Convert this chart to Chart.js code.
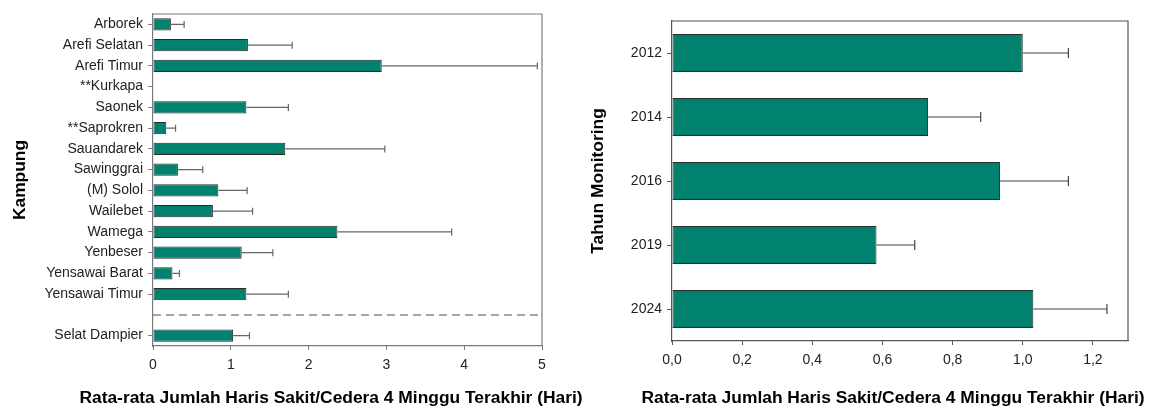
<!DOCTYPE html>
<html>
<head>
<meta charset="utf-8">
<script src="https://cdn.jsdelivr.net/npm/chart.js@4/dist/chart.umd.min.js"></script>
<style>
    body { margin: 0; background: #fff; }
    #wrap { position: relative; width: 1164px; height: 410px; overflow: hidden; }
    canvas { position: absolute; top: 0; }
    #g1 { left: 0; }
    #g2 { left: 580px; }
</style>
</head>
<body>
<div id="wrap">
    <canvas id="g2" width="584" height="410"></canvas>
    <canvas id="g1" width="592" height="410"></canvas>
</div>
<script>
// data per kampung (nilai rata-rata dan ujung atas error bar)
const kampung = [
    'Arborek', 'Arefi Selatan', 'Arefi Timur', '**Kurkapa', 'Saonek', '**Saprokren',
    'Sauandarek', 'Sawinggrai', '(M) Solol', 'Wailebet', 'Wamega', 'Yenbeser',
    'Yensawai Barat', 'Yensawai Timur', '', 'Selat Dampier'
];
const rataKampung = [0.23, 1.22, 2.94, null, 1.20, 0.17, 1.70, 0.32, 0.84, 0.77, 2.37, 1.14, 0.25, 1.20, null, 1.03];
const atasKampung = [0.40, 1.79, 4.94, null, 1.74, 0.29, 2.98, 0.64, 1.21, 1.28, 3.84, 1.54, 0.34, 1.74, null, 1.24];

// data per tahun monitoring
const tahun = ['2012', '2014', '2016', '2019', '2024'];
const rataTahun = [1.00, 0.73, 0.935, 0.583, 1.03];
const atasTahun = [1.13, 0.88, 1.13, 0.692, 1.24];

const judulX = 'Rata-rata Jumlah Haris Sakit/Cedera 4 Minggu Terakhir (Hari)';
const font = "'Liberation Sans', Arial, sans-serif";
const hijau = '#00826e';

// garis error, bingkai, garis putus-putus, judul bawah
const tambahan = {
    id: 'tambahan',
    afterDatasetsDraw(chart, args, opts) {
        const ctx = chart.ctx;
        const a = chart.chartArea;
        const xs = chart.scales.x;
        const ys = chart.scales.y;
        const meta = chart.getDatasetMeta(0);
        const rata = chart.data.datasets[0].data;
        ctx.save();

        ctx.strokeStyle = opts.errColor;
        ctx.lineWidth = 1.2;
        rata.forEach((v, i) => {
            if (v === null) return;
            const x1 = xs.getPixelForValue(v);
            const x2 = xs.getPixelForValue(opts.atas[i]);
            const y = meta.data[i].y;
            ctx.beginPath();
            ctx.moveTo(x1, y);
            ctx.lineTo(x2, y);
            ctx.moveTo(x2, y - opts.cap);
            ctx.lineTo(x2, y + opts.cap);
            ctx.stroke();
        });

        if (opts.pemisah !== undefined) {
            const y = ys.getPixelForValue(opts.pemisah);
            ctx.strokeStyle = '#888';
            ctx.lineWidth = 1.5;
            ctx.setLineDash([8, 5]);
            ctx.beginPath();
            ctx.moveTo(a.left, y);
            ctx.lineTo(a.right, y);
            ctx.stroke();
            ctx.setLineDash([]);
        }

        ctx.strokeStyle = opts.frame;
        ctx.lineWidth = 1.2;
        ctx.beginPath();
        ctx.moveTo(a.left, a.top);
        ctx.lineTo(a.right, a.top);
        ctx.lineTo(a.right, a.bottom);
        ctx.stroke();

        ctx.fillStyle = '#000';
        ctx.font = 'bold 17.4px ' + font;
        ctx.textAlign = 'center';
        ctx.textBaseline = 'middle';
        ctx.fillText(judulX, opts.titleX, opts.titleY);
        ctx.restore();
    }
};

function buat(id, labels, rata, atas, cfg) {
    return new Chart(document.getElementById(id).getContext('2d'), {
        type: 'bar',
        data: {
            labels: labels,
            datasets: [
                {
                    data: rata,
                    backgroundColor: hijau,
                    borderColor: '#2a2a2a',
                    borderWidth: 1,
                    borderSkipped: false,
                    barPercentage: cfg.barPct,
                    categoryPercentage: 1
                }
            ]
        },
        plugins: [tambahan],
        options: {
            indexAxis: 'y',
            responsive: false,
            animation: false,
            layout: { padding: cfg.padding },
            plugins: {
                legend: { display: false },
                tooltip: { enabled: false },
                tambahan: {
                    atas: atas,
                    cap: cfg.cap,
                    errColor: cfg.errColor,
                    frame: cfg.frame,
                    pemisah: cfg.pemisah,
                    titleX: cfg.titleX,
                    titleY: 398
                }
            },
            scales: {
                x: {
                    min: 0,
                    max: cfg.max,
                    ticks: {
                        stepSize: cfg.step,
                        includeBounds: false,
                        color: '#222',
                        padding: 7,
                        font: { family: font, size: 14 },
                        callback: cfg.fmt
                    },
                    grid: { drawOnChartArea: false, tickLength: 4, color: cfg.frame },
                    border: { color: cfg.frame, width: 1.2 },
                    afterFit: (s) => { s.height = cfg.xHeight; }
                },
                y: {
                    ticks: {
                        color: '#222',
                        padding: 5,
                        autoSkip: false,
                        font: { family: font, size: 14 }
                    },
                    grid: {
                        offset: false,
                        drawOnChartArea: false,
                        tickLength: 5,
                        color: (c) => (c.tick && c.tick.label === '' ? 'rgba(0,0,0,0)' : cfg.frame)
                    },
                    border: { color: cfg.frame, width: 1.2 },
                    title: {
                        display: true,
                        text: cfg.yTitle,
                        color: '#000',
                        padding: { top: cfg.yTitlePad, bottom: 0 },
                        font: { family: font, size: 17.4, weight: 'bold' }
                    },
                    afterFit: (s) => { s.width = cfg.yWidth; }
                }
            }
        }
    });
}

buat('g1', kampung, rataKampung, atasKampung, {
    barPct: 0.58,
    padding: { top: 14, right: 50, bottom: 0, left: 0 },
    max: 5,
    step: 1,
    fmt: (v) => v,
    xHeight: 64,
    yWidth: 153,
    yTitle: 'Kampung',
    yTitlePad: 10,
    cap: 3.5,
    errColor: '#666',
    frame: '#7a7a7a',
    pemisah: 14,
    titleX: 331
});

buat('g2', tahun, rataTahun, atasTahun, {
    barPct: 0.59,
    padding: { top: 21, right: 36, bottom: 0, left: 0 },
    max: 1.3,
    step: 0.2,
    fmt: (v) => v.toFixed(1).replace('.', ','),
    xHeight: 69,
    yWidth: 92,
    yTitle: 'Tahun Monitoring',
    yTitlePad: 8,
    cap: 5,
    errColor: '#444',
    frame: '#555',
    titleX: 313
});
</script>
</body>
</html>
